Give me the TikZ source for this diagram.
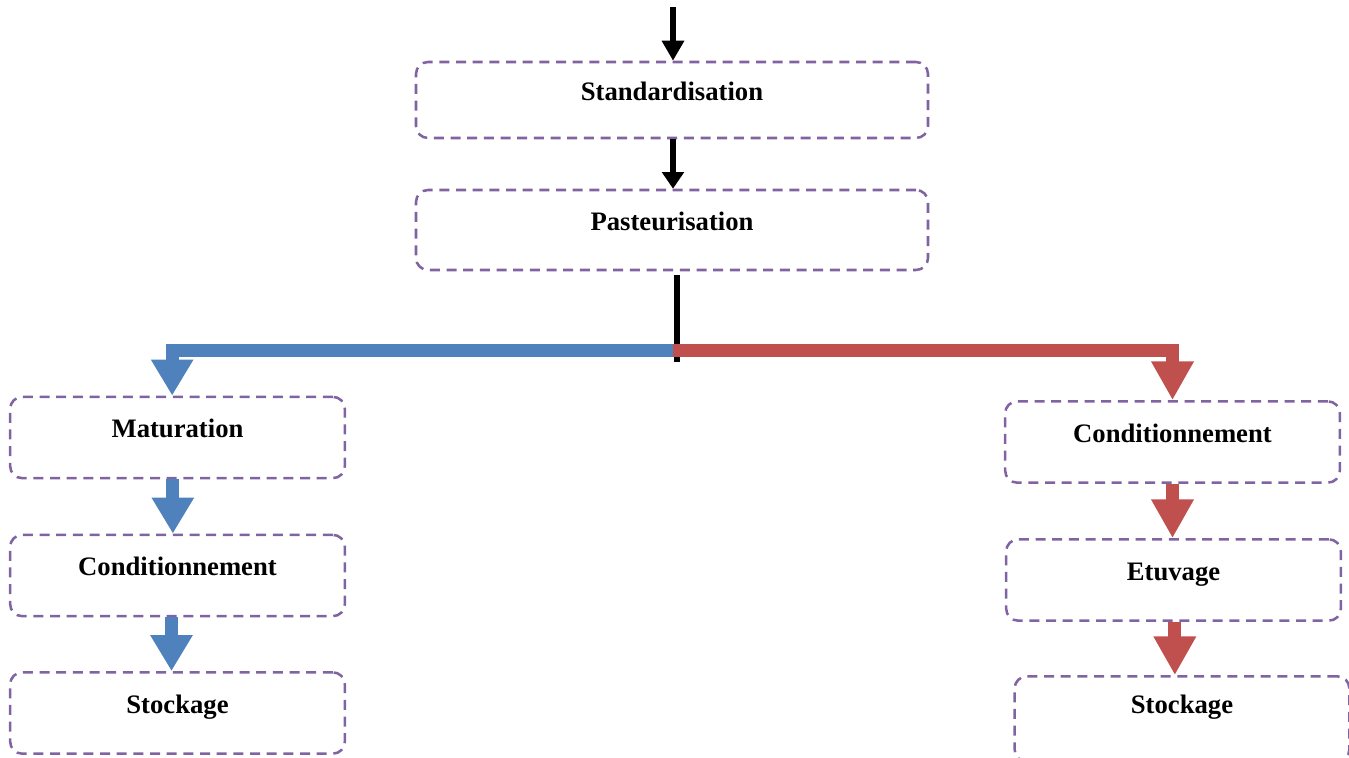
\documentclass[tikz,border=0pt]{standalone}
\usepackage{fontspec}
\setmainfont{Liberation Serif}
\usetikzlibrary{arrows.meta}
\definecolor{boxline}{HTML}{8064A2}
\definecolor{flowblue}{HTML}{4F81BD}
\definecolor{flowred}{HTML}{C0504D}
\begin{document}
\begin{tikzpicture}[x=0.75pt,y=-0.75pt,
  stepbox/.style={draw=boxline, line width=1.9pt, dash pattern=on 7.5pt off 5pt,
    rounded corners=9pt, inner sep=0pt, text height=15pt, text depth=15pt,
    font=\fontsize{20}{24}\selectfont\bfseries, align=center},
  wide/.style={minimum width=384pt},
  narrow/.style={minimum width=251pt},
  blackarrow/.style={line width=5pt, -{Triangle[width=16pt,length=#1]}},
  blackarrow/.default=12.5pt,
  blackbar/.style={line width=5pt},
  bluearrow/.style={draw=flowblue, line width=9.75pt, line join=miter,
    -{Triangle[width=30pt,length=27pt]}},
  redarrow/.style={draw=flowred, line width=9.75pt, line join=miter,
    -{Triangle[width=30pt,length=29pt]}}]
\useasboundingbox (0,0) rectangle (1349,757);

% main line
\node[stepbox, wide, minimum height=57pt] (std) at (672,100) {Standardisation};
\node[stepbox, wide, minimum height=60pt] (pas) at (672,230) {Pasteurisation};

% left branch
\node[stepbox, narrow, minimum height=61pt] (mat)   at (177.5,437.5) {Maturation};
\node[stepbox, narrow, minimum height=61pt] (condL) at (177.5,575.5) {Conditionnement};
\node[stepbox, narrow, minimum height=61pt] (stoL)  at (177.5,713)   {Stockage};

% right branch
\node[stepbox, narrow, minimum height=61pt] (condR) at (1172.5,442) {Conditionnement};
\node[stepbox, narrow, minimum height=61pt] (etu)   at (1173.5,580) {Etuvage};
\node[stepbox, narrow, minimum height=64pt, text depth=19pt, text height=11pt] (stoR) at (1182,719) {Stockage};

\coordinate (in) at (673,7);
\coordinate (split) at (677,350);
\coordinate (stem) at (677,362);

% connectors
\draw[blackarrow=15pt] (in) -- (std.north -| in);
\draw[blackarrow] (std.south -| in) -- (pas.north -| in);
\draw[blackbar] (pas.south -| split) ++(0,4) -- (stem);
\draw[bluearrow] (split) -| ([xshift=-4pt]mat.north);
\draw[redarrow] ([xshift=-3pt]split) -| (condR.north);
\draw[bluearrow] ([xshift=-3.5pt]mat.south) -- ([xshift=-3.5pt]condL.north);
\draw[bluearrow] ([xshift=-4.5pt]condL.south) -- ([xshift=-4.5pt]stoL.north);
\draw[redarrow] (condR.south) -- (condR.south |- etu.north);
\draw[redarrow] ([xshift=1pt]etu.south) -- ([xshift=1pt]etu.south |- stoR.north);
\end{tikzpicture}
\end{document}
